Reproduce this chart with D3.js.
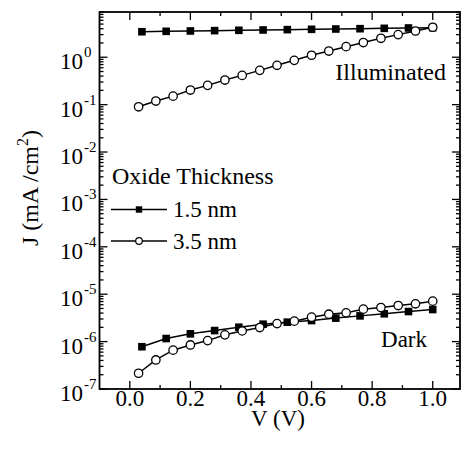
<!DOCTYPE html>
<html>
<head>
<meta charset="utf-8">
<script src="https://cdn.jsdelivr.net/npm/d3@7/dist/d3.min.js"></script>
<style>
  body { margin: 0; background: #fff; }
  svg { display: block; font-family: "Liberation Serif", "Times New Roman", serif; }
</style>
</head>
<body>
<svg id="chart"></svg>
<script>
// voltages (V)
const squareV = [0.04, 0.12, 0.20, 0.28, 0.36, 0.44, 0.52, 0.60, 0.68, 0.76, 0.84, 0.92, 1.00];
const circleV = [0.029, 0.086, 0.143, 0.200, 0.257, 0.314, 0.371, 0.429, 0.486,
                 0.543, 0.600, 0.657, 0.714, 0.771, 0.829, 0.886, 0.943, 1.000];

// current density J (mA/cm^2)
const lit15 = [3.45, 3.52, 3.58, 3.64, 3.70, 3.76, 3.82, 3.88, 3.94, 4.00, 4.07, 4.14, 4.20];
const lit35 = [0.090, 0.119, 0.151, 0.203, 0.255, 0.330, 0.414, 0.528, 0.675,
               0.86, 1.10, 1.35, 1.67, 2.04, 2.51, 3.00, 3.58, 4.29];
const dark15 = [7.8e-7, 1.16e-6, 1.46e-6, 1.71e-6, 2.01e-6, 2.33e-6, 2.57e-6,
                2.78e-6, 3.13e-6, 3.49e-6, 3.86e-6, 4.31e-6, 4.75e-6];
const dark35 = [2.15e-7, 4.1e-7, 6.6e-7, 8.5e-7, 1.05e-6, 1.39e-6, 1.68e-6, 1.98e-6, 2.40e-6,
                2.70e-6, 3.28e-6, 3.79e-6, 4.05e-6, 4.84e-6, 5.24e-6, 5.77e-6, 6.27e-6, 7.14e-6];

const xMajor = [0.0, 0.2, 0.4, 0.6, 0.8, 1.0];
const xMinor = [0.1, 0.3, 0.5, 0.7, 0.9];
const yExp = [-7, -6, -5, -4, -3, -2, -1, 0];

const svg = d3.select("#chart")
    .attr("width", 462)
    .attr("height", 455);

const plotL = 99.5, plotR = 460, plotT = 12, plotB = 389;

const x = d3.scaleLinear().domain([-0.1, 1.09]).range([plotL, plotR]);
const y = d3.scaleLog().domain([1e-7, 9]).range([plotB, plotT]);

// minor log ticks
const yMinor = [];
yExp.forEach(e => {
    for (let k = 2; k <= 9; k++) {
        const v = k * Math.pow(10, e);
        if (v <= 9) yMinor.push(v);
    }
});

const ticks = svg.append("g").attr("stroke", "#000").attr("stroke-width", 1.3);

// x ticks, bottom and top, pointing inward
[[xMajor, 8], [xMinor, 4]].forEach(([vals, len]) => {
    ticks.selectAll(null).data(vals).enter().append("line")
        .attr("x1", d => x(d)).attr("x2", d => x(d))
        .attr("y1", plotB).attr("y2", plotB - len);
    ticks.selectAll(null).data(vals).enter().append("line")
        .attr("x1", d => x(d)).attr("x2", d => x(d))
        .attr("y1", plotT).attr("y2", plotT + len);
});

// y ticks, left and right
const yMajor = yExp.map(e => Math.pow(10, e));
[[yMajor, 8], [yMinor, 4]].forEach(([vals, len]) => {
    ticks.selectAll(null).data(vals).enter().append("line")
        .attr("y1", d => y(d)).attr("y2", d => y(d))
        .attr("x1", plotL).attr("x2", plotL + len);
    ticks.selectAll(null).data(vals).enter().append("line")
        .attr("y1", d => y(d)).attr("y2", d => y(d))
        .attr("x1", plotR).attr("x2", plotR - len);
});

// frame
svg.append("rect")
    .attr("x", plotL).attr("y", plotT)
    .attr("width", plotR - plotL).attr("height", plotB - plotT)
    .attr("fill", "none").attr("stroke", "#000").attr("stroke-width", 1.8);

// x tick labels
svg.selectAll(".xl").data(xMajor).enter().append("text")
    .attr("x", d => x(d)).attr("y", 406)
    .attr("text-anchor", "middle")
    .attr("font-size", 23)
    .text(d => d.toFixed(1));

// y tick labels 10^n
const yl = svg.selectAll(".yl").data(yExp).enter().append("g");
yl.append("text")
    .attr("x", 83).attr("y", d => y(Math.pow(10, d)) + 12)
    .attr("text-anchor", "end")
    .attr("font-size", 23)
    .text("10");
yl.append("text")
    .attr("x", 84).attr("y", d => y(Math.pow(10, d)))
    .attr("font-size", 15)
    .text(d => d < 0 ? "-" + (-d) : d);

// axis titles
svg.append("text")
    .attr("x", 278).attr("y", 426)
    .attr("text-anchor", "middle")
    .attr("font-size", 23)
    .text("V (V)");

const yt = svg.append("text")
    .attr("transform", "translate(38,188) rotate(-90)")
    .attr("text-anchor", "middle")
    .attr("font-size", 24);
yt.append("tspan").text("J (mA /cm");
yt.append("tspan").attr("dy", -10).attr("font-size", 16).text("2");
yt.append("tspan").attr("dy", 10).text(")");

// series
const line = d3.line().x(d => x(d[0])).y(d => y(d[1]));
const series = [
    { v: squareV, j: lit15, shape: "square" },
    { v: circleV, j: lit35, shape: "circle" },
    { v: squareV, j: dark15, shape: "square" },
    { v: circleV, j: dark35, shape: "circle" }
];

series.forEach(s => {
    const pts = s.v.map((v, i) => [v, s.j[i]]);
    svg.append("path")
        .attr("d", line(pts))
        .attr("fill", "none")
        .attr("stroke", "#000")
        .attr("stroke-width", 1.5);
    if (s.shape === "square") {
        svg.selectAll(null).data(pts).enter().append("rect")
            .attr("x", d => x(d[0]) - 3.8).attr("y", d => y(d[1]) - 3.8)
            .attr("width", 7.6).attr("height", 7.6)
            .attr("fill", "#000");
    } else {
        svg.selectAll(null).data(pts).enter().append("circle")
            .attr("cx", d => x(d[0])).attr("cy", d => y(d[1]))
            .attr("r", 4.2)
            .attr("fill", "#fff").attr("stroke", "#000").attr("stroke-width", 1.3);
    }
});

// annotations
svg.append("text").attr("x", 446).attr("y", 80)
    .attr("text-anchor", "end").attr("font-size", 24).text("Illuminated");
svg.append("text").attr("x", 427).attr("y", 347)
    .attr("text-anchor", "end").attr("font-size", 23).text("Dark");

// legend
const legend = svg.append("g");
legend.append("text").attr("x", 112).attr("y", 184)
    .attr("font-size", 24).text("Oxide Thickness");
const legendRows = [
    { label: "1.5 nm", shape: "square", ly: 209.5 },
    { label: "3.5 nm", shape: "circle", ly: 241 }
];
legendRows.forEach(r => {
    legend.append("line")
        .attr("x1", 111).attr("x2", 167)
        .attr("y1", r.ly).attr("y2", r.ly)
        .attr("stroke", "#000").attr("stroke-width", 1.5);
    if (r.shape === "square") {
        legend.append("rect")
            .attr("x", 139 - 3.2).attr("y", r.ly - 3.2)
            .attr("width", 6.4).attr("height", 6.4).attr("fill", "#000");
    } else {
        legend.append("circle")
            .attr("cx", 139).attr("cy", r.ly).attr("r", 3.3)
            .attr("fill", "#fff").attr("stroke", "#000").attr("stroke-width", 1.2);
    }
    legend.append("text")
        .attr("x", 173).attr("y", r.ly + 7.5)
        .attr("font-size", 23).text(r.label);
});
</script>
</body>
</html>
